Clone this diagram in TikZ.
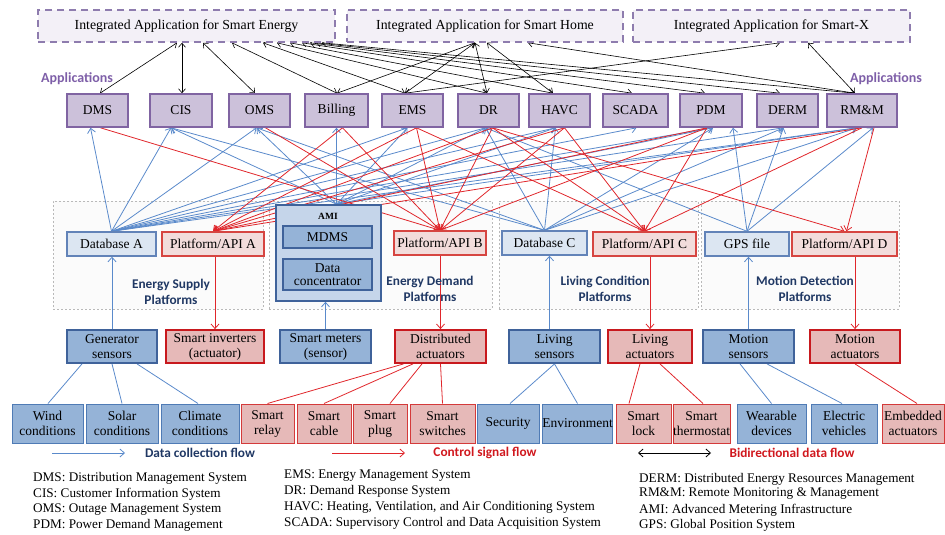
\documentclass[tikz,border=0pt]{standalone}
\usepackage{fontspec}
\setmainfont{Liberation Serif}
\newfontfamily\lblfont{Carlito}
\usetikzlibrary{arrows.meta}
\pgfdeclarelayer{grp}
\pgfdeclarelayer{lines}
\pgfsetlayers{grp,lines,main}

\definecolor{intfill}{HTML}{F3F0F7}
\definecolor{intline}{HTML}{8E7CAE}
\definecolor{appfill}{HTML}{CCC1DA}
\definecolor{appline}{HTML}{8064A2}
\definecolor{dbfill}{HTML}{DCE6F2}
\definecolor{dbline}{HTML}{6283B8}
\definecolor{apifill}{HTML}{F2DCDB}
\definecolor{apiline}{HTML}{D64541}
\definecolor{senfill}{HTML}{95B3D7}
\definecolor{senline}{HTML}{3F629A}
\definecolor{actfill}{HTML}{E6B9B8}
\definecolor{actline}{HTML}{C8191E}
\definecolor{leafbline}{HTML}{4F7BB5}
\definecolor{leafrline}{HTML}{D43A3A}
\definecolor{amifill}{HTML}{C5D5EA}
\definecolor{flowblue}{HTML}{5A8ACB}
\definecolor{flowred}{HTML}{E0262B}
\definecolor{labblue}{HTML}{203864}
\definecolor{labpurple}{HTML}{7E5FA8}
\definecolor{labred}{HTML}{D0181E}

\begin{document}
\begin{tikzpicture}[x=1pt,y=-1pt,
  font=\fontsize{13.5}{15}\selectfont,
  box/.style={draw, rectangle, inner sep=1pt, align=center},
  intbox/.style={box, fill=intfill, draw=intline, line width=1.6pt, dash pattern=on 7pt off 5pt, minimum height=32pt, font=\fontsize{13.8}{15}\selectfont},
  app/.style={box, fill=appfill, draw=appline, line width=1.6pt, minimum height=33pt},
  db/.style={box, fill=dbfill, draw=dbline, line width=1.4pt, minimum height=24pt},
  api/.style={box, fill=apifill, draw=apiline, line width=1.4pt, minimum height=24pt},
  sens/.style={box, fill=senfill, draw=senline, line width=1.8pt, minimum height=33pt},
  act/.style={box, fill=actfill, draw=actline, line width=1.8pt, minimum height=33pt},
  leafb/.style={box, fill=senfill, draw=leafbline, line width=1pt, minimum height=39pt, inner sep=0pt},
  leafr/.style={box, fill=actfill, draw=leafrline, line width=1pt, minimum height=39pt, inner sep=0pt},
  amibox/.style={box, fill=amifill, draw=senline, line width=1.6pt},
  amipart/.style={box, fill=senfill, draw=senline, line width=1.2pt},
  grpbox/.style={draw=gray!55, fill=gray!3, dash pattern=on 2pt off 2pt, line width=0.6pt, minimum height=108pt},
  biarrow/.style={{Straight Barb[length=4pt,width=7pt]}-{Straight Barb[length=4pt,width=7pt]}, line width=0.6pt},
  bflow/.style={-{Straight Barb[length=4.5pt,width=8pt]}, draw=flowblue, line width=0.8pt},
  rflow/.style={-{Straight Barb[length=4.5pt,width=8pt]}, draw=flowred, line width=0.8pt},
  btree/.style={draw=flowblue, line width=0.8pt},
  rtree/.style={draw=flowred, line width=0.8pt},
  lbl/.style={font=\lblfont\bfseries\fontsize{13.3}{16}\selectfont, align=center, inner sep=0pt},
  abbr/.style={anchor=west, inner sep=0pt, font=\fontsize{13.2}{15}\selectfont}
]
\useasboundingbox (0,0) rectangle (945,535);

% ---------- integrated applications ----------
\node[intbox, minimum width=297pt] (IE) at (186.5,26) {Integrated Application for Smart Energy};
\node[intbox, minimum width=276pt] (IH) at (485,26) {Integrated Application for Smart Home};
\node[intbox, minimum width=277pt] (IX) at (771.5,26) {Integrated Application for Smart-X};

% ---------- applications ----------
\node[lbl, text=labpurple, font=\lblfont\bfseries\fontsize{14}{16}\selectfont] (appL) at (77,79) {Applications};
\node[lbl, text=labpurple, font=\lblfont\bfseries\fontsize{14}{16}\selectfont] (appR) at (886,79) {Applications};

\node[app, minimum width=61pt] (DMS) at (97.5,110.5) {DMS};
\node[app, minimum width=62pt] (CIS) at (181,110.5) {CIS};
\node[app, minimum width=61pt] (OMS) at (259.5,110.5) {OMS};
\node[app, minimum width=63pt] (Billing) at (336.5,110.5) {Billing};
\node[app, minimum width=61pt] (EMS) at (412.5,110.5) {EMS};
\node[app, minimum width=61pt] (DR) at (488.5,110.5) {DR};
\node[app, minimum width=61pt] (HAVC) at (559.5,110.5) {HAVC};
\node[app, minimum width=65pt] (SCADA) at (635.5,110.5) {SCADA};
\node[app, minimum width=62pt] (PDM) at (711,110.5) {PDM};
\node[app, minimum width=61pt] (DERM) at (787.5,110.5) {DERM};
\node[app, minimum width=70pt] (RMM) at (862,110.5) {RM\&M};

% ---------- platform groups ----------
\begin{pgfonlayer}{grp}
\node[grpbox, minimum width=210pt] (G1) at (158,255) {};
\node[grpbox, minimum width=223pt] (G2) at (380.5,255) {};
\node[grpbox, minimum width=199pt] (G3) at (598.5,255) {};
\node[grpbox, minimum width=198pt] (G4) at (800,255) {};
\end{pgfonlayer}

\node[db, minimum width=89pt] (DbA) at (111.5,244) {Database A};
\node[api, minimum width=102pt] (ApiA) at (213,244) {Platform/API A};
\node[amibox, minimum width=105pt, minimum height=96pt] (AMI) at (328.5,253) {};
\node[font=\bfseries\fontsize{9.5}{11}\selectfont, inner sep=0pt] (amiLbl) at (328,216) {AMI};
\node[amipart, minimum width=89pt, minimum height=22pt] (MDMS) at (327.5,237) {MDMS};
\node[amipart, minimum width=89pt, minimum height=31pt] (DC) at (327.5,274.5) {Data\\[-2pt]concentrator};
\node[api, minimum width=92pt] (ApiB) at (440,243) {Platform/API B};
\node[db, minimum width=85pt] (DbC) at (544.5,243) {Database C};
\node[api, minimum width=103pt] (ApiC) at (644.5,244) {Platform/API C};
\node[db, minimum width=84pt] (GPS) at (747,244) {GPS file};
\node[api, minimum width=105pt] (ApiD) at (844.5,244) {Platform/API D};

\node[lbl, text=labblue] (pl1) at (171,292) {Energy Supply\\Platforms};
\node[lbl, text=labblue] (pl2) at (430,289) {Energy Demand\\Platforms};
\node[lbl, text=labblue] (pl3) at (605,289) {Living Condition\\Platforms};
\node[lbl, text=labblue] (pl4) at (805,289) {Motion Detection\\Platforms};

% ---------- sensors and actuators ----------
\node[sens, minimum width=90pt] (GenSens) at (112,346.5) {Generator\\sensors};
\node[act, minimum width=98pt] (Inv) at (215,346.5) {Smart inverters\\(actuator)};
\node[sens, minimum width=91pt] (Meters) at (325.5,346.5) {Smart meters\\(sensor)};
\node[act, minimum width=91pt] (DistAct) at (440.5,346.5) {Distributed\\actuators};
\node[sens, minimum width=91pt] (LivSens) at (554.5,346.5) {Living\\sensors};
\node[act, minimum width=84pt] (LivAct) at (650,346.5) {Living\\actuators};
\node[sens, minimum width=91pt] (MotSens) at (748.5,346.5) {Motion\\sensors};
\node[act, minimum width=90pt] (MotAct) at (855,346.5) {Motion\\actuators};

% ---------- devices ----------
\node[leafb, minimum width=71pt] (Wind) at (47.5,423.5) {Wind\\conditions};
\node[leafb, minimum width=72pt] (Solar) at (122,423.5) {Solar\\conditions};
\node[leafb, minimum width=78pt] (Climate) at (200,423.5) {Climate\\conditions};
\node[leafr, minimum width=53pt] (Relay) at (267.5,423.5) {Smart\\relay};
\node[leafr, minimum width=54pt] (Cable) at (324,423.5) {Smart\\cable};
\node[leafr, minimum width=54pt] (Plug) at (380,423.5) {Smart\\plug};
\node[leafr, minimum width=65pt] (Switches) at (442.5,423.5) {Smart\\switches};
\node[leafb, minimum width=62pt] (Security) at (508,423.5) {Security};
\node[leafb, minimum width=69pt] (Environment) at (577.5,423.5) {Environment};
\node[leafr, minimum width=55pt] (Lock) at (643.5,423.5) {Smart\\lock};
\node[leafr, minimum width=55pt] (Thermo) at (701.5,423.5) {Smart\\thermostat};
\node[leafb, minimum width=69pt] (Wearable) at (771.5,423.5) {Wearable\\devices};
\node[leafb, minimum width=66pt] (Electric) at (844,423.5) {Electric\\vehicles};
\node[leafr, minimum width=62pt] (Embedded) at (913,423.5) {Embedded\\actuators};

% ---------- connection points ----------
\foreach \a/\bi/\ro in {DMS/-7/3, CIS/-10/0, OMS/-3/6, Billing/0/6, EMS/-5/4, DR/-3/4,
                         HAVC/-4/5, SCADA/1/6, PDM/2/-4, DERM/-4/2, RMM/-5/0} {
  \coordinate (\a-in) at ([xshift=\bi pt]\a.south);
  \coordinate (\a-out) at ([xshift=\ro pt]\a.south);
}
\coordinate (amiTop) at ([xshift=8pt]AMI.north);
\coordinate (gpsPdm) at ([xshift=22pt]PDM.south);
\coordinate (gpsRmm) at ([xshift=11pt]RMM.south);
\coordinate (rmmD) at ([xshift=12pt]RMM.south);

\begin{pgfonlayer}{lines}
% integrated applications <-> applications
\foreach \a/\s/\t in {DMS/2.5/-9.5, CIS/1/-4.5, OMS/-4.5/16.5, Billing/0.5/45.5, EMS/-7.5/76.5,
                      DR/-1.5/90.5, HAVC/-6.5/103.5, SCADA/-3.5/115.5, PDM/-6/123.5,
                      DERM/-7.5/129.5, RMM/-7/135.5}
  \draw[biarrow] ([xshift=\s pt]\a.north) -- ([xshift=\t pt]IE.south);
\foreach \a/\s/\t in {Billing/0.5/-10, EMS/-7.5/-10, DR/-1.5/-10, HAVC/-6.5/2, RMM/-7/43}
  \draw[biarrow] ([xshift=\s pt]\a.north) -- ([xshift=\t pt]IH.south);
\foreach \a/\s/\t in {EMS/-7.5/8.5, RMM/-7/36.5}
  \draw[biarrow] ([xshift=\s pt]\a.north) -- ([xshift=\t pt]IX.south);

% data collection: sources -> applications
\foreach \t in {DMS,CIS,OMS,EMS,DR,HAVC,SCADA,PDM,DERM,RMM}
  \draw[bflow] (DbA.north) -- (\t-in);
\foreach \t in {CIS,OMS,Billing,EMS,DR,HAVC,PDM,RMM}
  \draw[bflow] (amiTop) -- (\t-in);
\foreach \t in {CIS,OMS,DR,HAVC,PDM,DERM,RMM}
  \draw[bflow] (DbC.north) -- (\t-in);
\draw[bflow] (GPS.north) -- (DR-in);
\draw[bflow] (GPS.north) -- (gpsPdm);
\draw[bflow] (GPS.north) -- (DERM-in);
\draw[bflow] (GPS.north) -- (gpsRmm);

% control signals: applications -> platforms
\foreach \s/\p in {DMS/ApiB, OMS/ApiB, Billing/ApiA, Billing/ApiB,
                   EMS/ApiA, EMS/ApiB, EMS/ApiC, DR/ApiA, DR/ApiB, DR/ApiC, DR/ApiD,
                   HAVC/ApiA, HAVC/ApiB, HAVC/ApiC, PDM/ApiA, PDM/ApiB, PDM/ApiC,
                   RMM/ApiA, RMM/ApiC}
  \draw[rflow] (\s-out) -- (\p.north);
\draw[rflow] (rmmD) -- ([xshift=2pt]ApiD.north);

% sensors -> platforms, platforms -> actuators
\draw[bflow] (GenSens.north) -- (GenSens.north |- DbA.south);
\draw[rflow] (Inv.north |- ApiA.south) -- (Inv.north);
\draw[bflow] (Meters.north) -- (Meters.north |- AMI.south);
\draw[rflow] (DistAct.north |- ApiB.south) -- (DistAct.north);
\coordinate (lsTop) at ([xshift=-5pt]LivSens.north);
\draw[bflow] (lsTop) -- (lsTop |- DbC.south);
\draw[rflow] (LivAct.north |- ApiC.south) -- (LivAct.north);
\draw[bflow] (MotSens.north) -- (MotSens.north |- GPS.south);
\draw[rflow] (MotAct.north |- ApiD.south) -- (MotAct.north);

% device trees
\draw[btree] ([xshift=-30pt]GenSens.south) -- ([xshift=0.5pt]Wind.north);
\draw[btree] (GenSens.south) -- (Solar.north);
\draw[btree] ([xshift=25pt]GenSens.south) -- ([xshift=-2pt]Climate.north);
\draw[rtree] ([xshift=-37pt]DistAct.south) -- (Relay.north);
\draw[rtree] ([xshift=-27.5pt]DistAct.south) -- (Cable.north);
\draw[rtree] ([xshift=-18.5pt]DistAct.south) -- ([xshift=10pt]Plug.north);
\draw[rtree] (DistAct.south) -- (Switches.north);
\draw[btree] (LivSens.south) -- ([xshift=2pt]Security.north);
\draw[btree] (LivSens.south) -- (Environment.north);
\draw[rtree] ([xshift=-10pt]LivAct.south) -- ([xshift=-14.5pt]Lock.north);
\draw[rtree] ([xshift=10pt]LivAct.south) -- ([xshift=1.5pt]Thermo.north);
\draw[btree] ([xshift=-8.5pt]MotSens.south) -- (Wearable.north);
\draw[btree] ([xshift=18.5pt]MotSens.south) -- ([xshift=-2pt]Electric.north);
\draw[rtree] (MotAct.south) -- ([xshift=4pt]Embedded.north);
\end{pgfonlayer}

% ---------- legend ----------
\coordinate (lgB1) at (52,453);  \coordinate (lgB2) at (125,453);
\coordinate (lgR1) at (332,453); \coordinate (lgR2) at (405,453);
\coordinate (lgK1) at (638,453); \coordinate (lgK2) at (711,453);
\draw[bflow] (lgB1) -- (lgB2);
\draw[rflow] (lgR1) -- (lgR2);
\draw[{Straight Barb[length=4.5pt,width=8pt]}-{Straight Barb[length=4.5pt,width=8pt]}, line width=0.8pt] (lgK1) -- (lgK2);
\node[lbl, text=labblue] (lgBt) at (200,453) {Data collection flow};
\node[lbl, text=labred] (lgRt) at (485,453) {Control signal flow};
\node[lbl, text=labred] (lgKt) at (792,453) {Bidirectional data flow};

% ---------- abbreviations ----------
\node[abbr] (ab1) at (33,478) {DMS: Distribution Management System};
\node[abbr] (ab2) at (33,494) {CIS: Customer Information System};
\node[abbr] (ab3) at (33,510) {OMS: Outage Management System};
\node[abbr] (ab4) at (33,525) {PDM: Power Demand Management};
\node[abbr] (ab5) at (284,476) {EMS: Energy Management System};
\node[abbr] (ab6) at (284,491) {DR: Demand Response System};
\node[abbr] (ab7) at (284,507) {HAVC: Heating, Ventilation, and Air Conditioning System};
\node[abbr] (ab8) at (284,523) {SCADA: Supervisory Control and Data Acquisition System};
\node[abbr] (ab9) at (639,479) {DERM: Distributed Energy Resources Management};
\node[abbr] (ab10) at (639,494) {RM\&M: Remote Monitoring \& Management};
\node[abbr] (ab11) at (639,510) {AMI: Advanced Metering Infrastructure};
\node[abbr] (ab12) at (639,525) {GPS: Global Position System};
\end{tikzpicture}
\end{document}
